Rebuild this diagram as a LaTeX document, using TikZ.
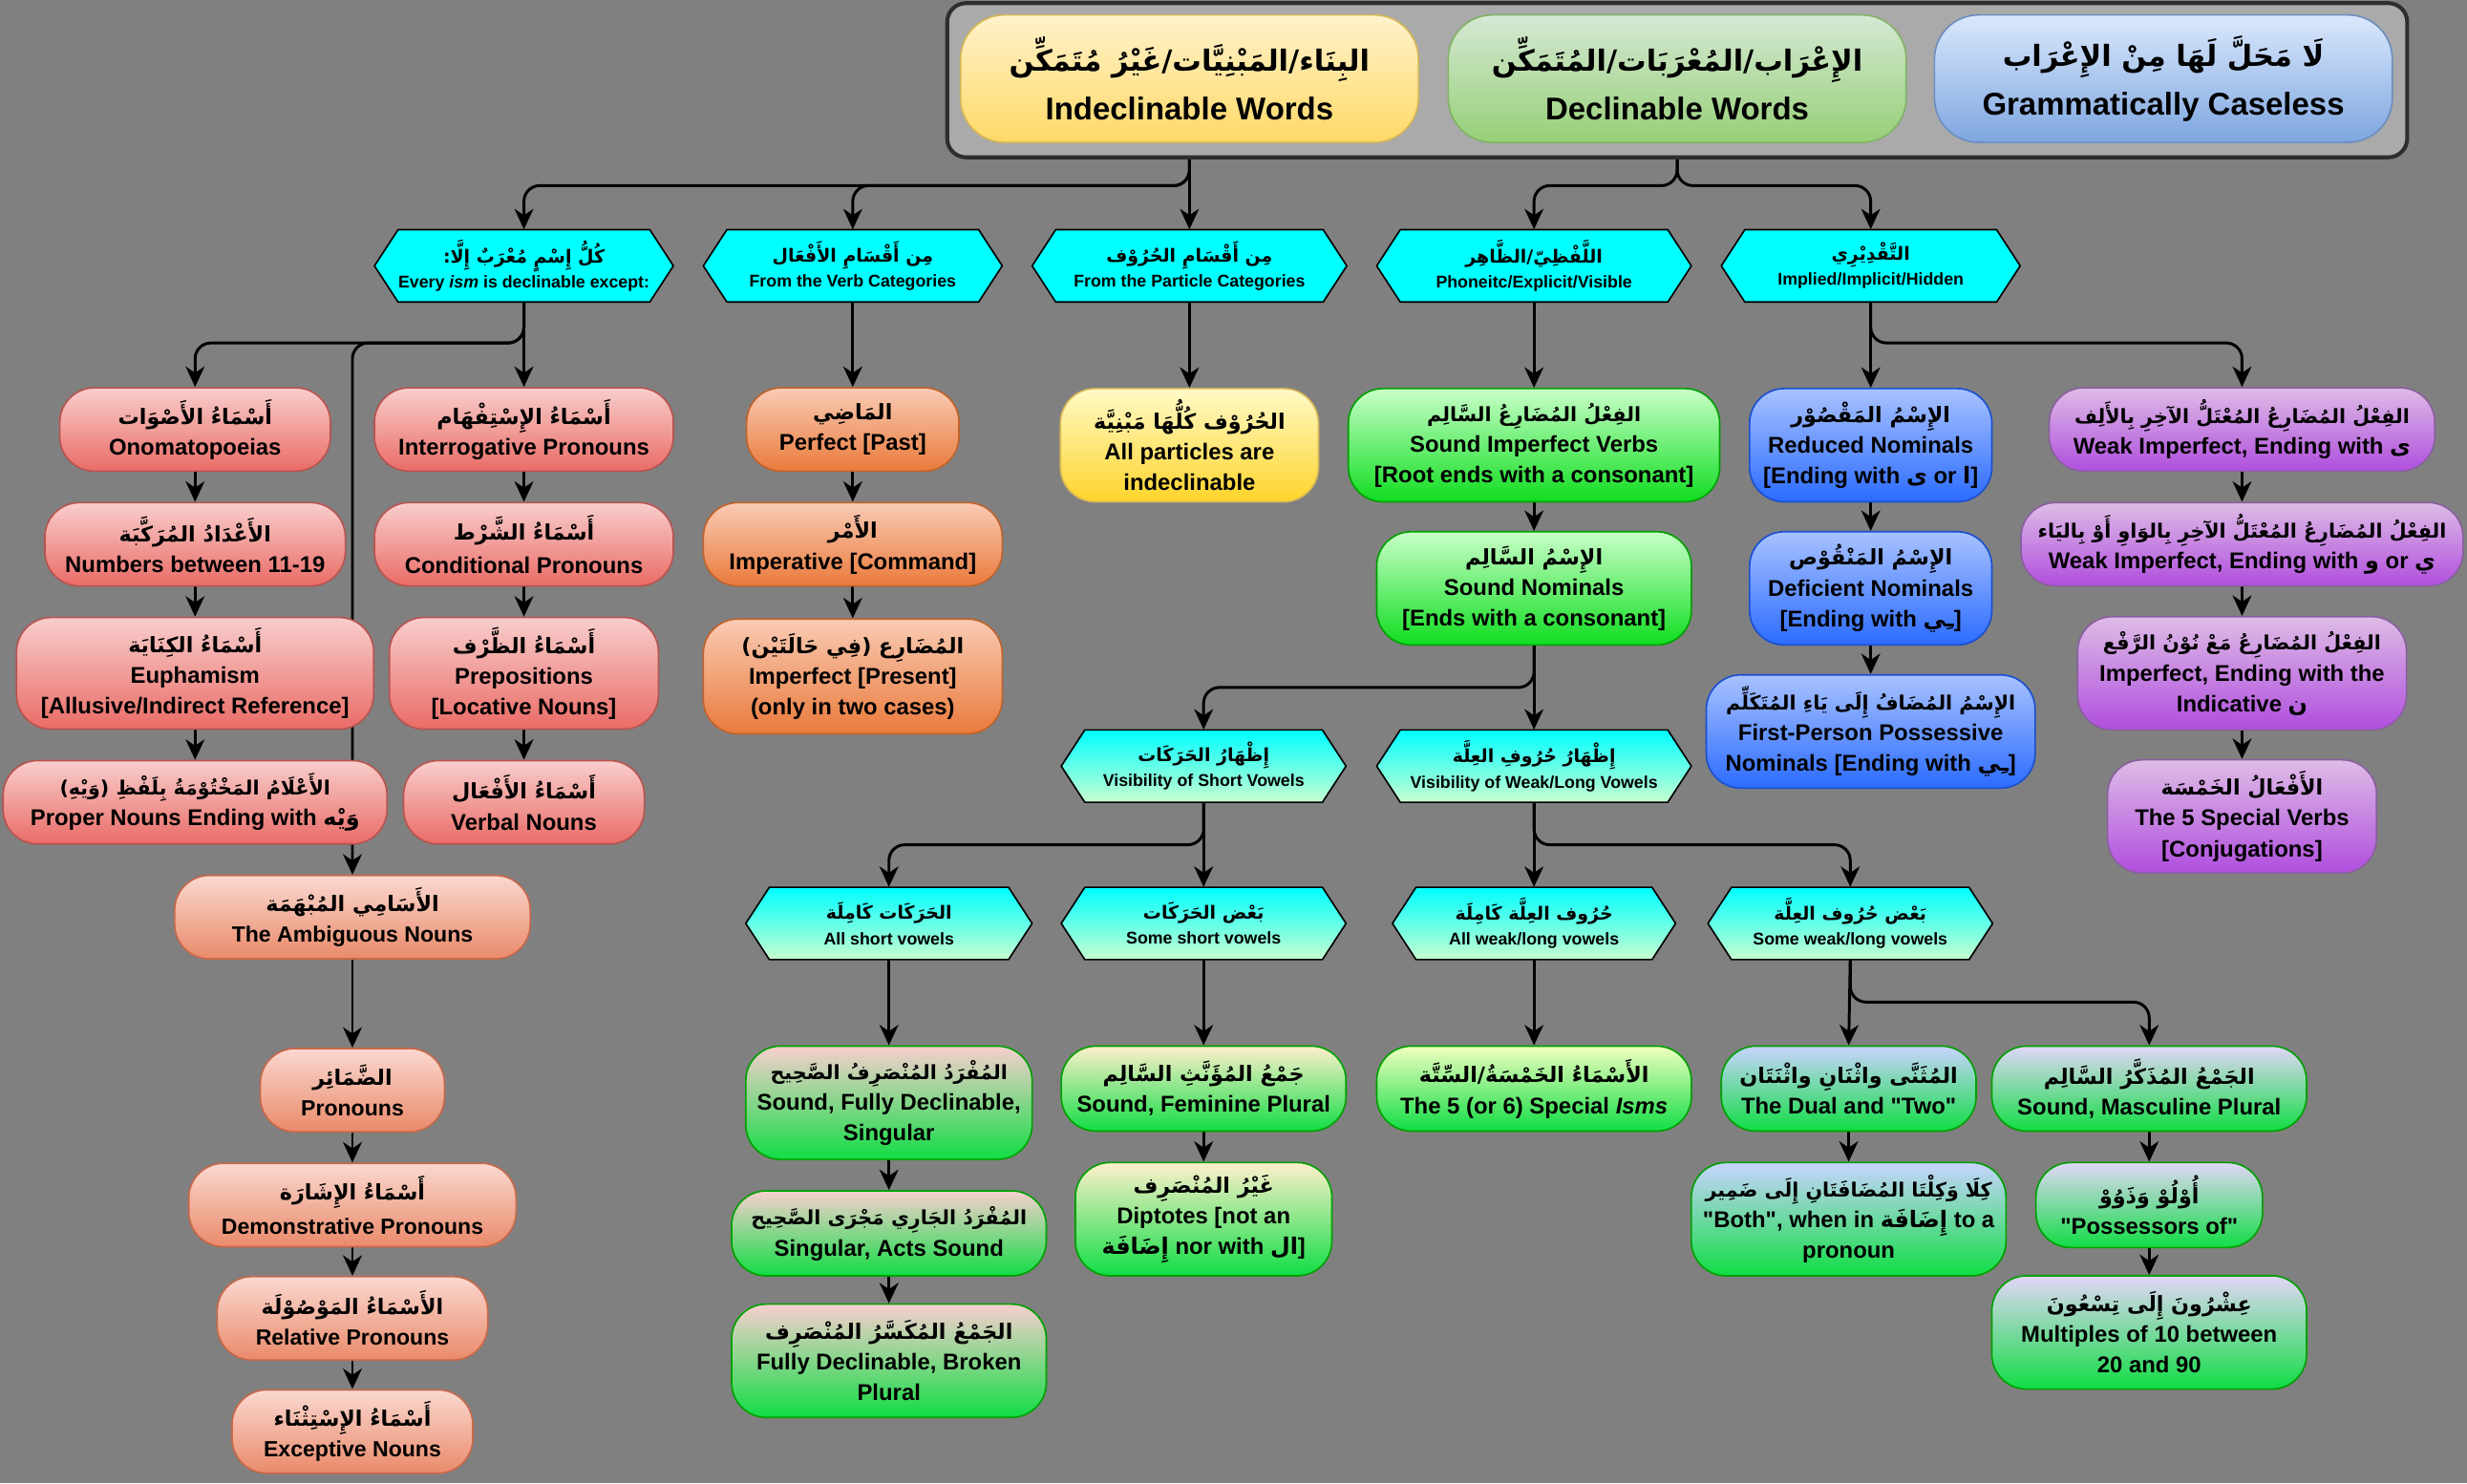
\documentclass[tikz,border=0pt]{standalone}
\usepackage{fontspec}
\setmainfont{Liberation Sans}
\newfontfamily\ar[Script=Arabic]{DejaVu Sans}
\TeXXeTstate=1
\usetikzlibrary{arrows.meta}
\pgfdeclarelayer{bg}
\pgfdeclarelayer{lines}
\pgfsetlayers{bg,lines,main}

\definecolor{bgc}{HTML}{808080}
\definecolor{hdr}{HTML}{AAAAAA}
\definecolor{hdrd}{HTML}{2E2E2E}
\definecolor{y1}{HTML}{FFF2CC}\definecolor{y2}{HTML}{FFD966}\definecolor{yd}{HTML}{D6B656}
\definecolor{gh1}{HTML}{D5E8D4}\definecolor{gh2}{HTML}{97D077}\definecolor{ghd}{HTML}{82B366}
\definecolor{bh1}{HTML}{DAE8FC}\definecolor{bh2}{HTML}{7EA6E0}\definecolor{bhd}{HTML}{6C8EBF}
\definecolor{pk1}{HTML}{F8CECC}\definecolor{pk2}{HTML}{EA6B66}\definecolor{pkd}{HTML}{B85450}
\definecolor{sa1}{HTML}{FAD8D0}\definecolor{sa2}{HTML}{EA8A6A}\definecolor{sad}{HTML}{C8684A}
\definecolor{or1}{HTML}{F9CBB4}\definecolor{or2}{HTML}{EA7A3C}\definecolor{ord}{HTML}{C0622A}
\definecolor{yp1}{HTML}{FFFAC8}\definecolor{yp2}{HTML}{FFD42A}
\definecolor{gn1}{HTML}{C8FFC8}\definecolor{gn2}{HTML}{10DD20}\definecolor{gnd}{HTML}{00A000}
\definecolor{bl1}{HTML}{A8C2FF}\definecolor{bl2}{HTML}{2B6BFF}\definecolor{bld}{HTML}{1A50D0}
\definecolor{pu1}{HTML}{DEBCE6}\definecolor{pu2}{HTML}{B04EDE}\definecolor{pud}{HTML}{8A5FA0}
\definecolor{hx1}{HTML}{00FFFF}\definecolor{hx2}{HTML}{C8FFD0}
\definecolor{gb}{HTML}{10DD44}
\definecolor{tpk}{HTML}{F8CFCF}\definecolor{tbe}{HTML}{FFF0CC}\definecolor{tyg}{HTML}{F0FFC0}
\definecolor{tbl}{HTML}{C8D4FF}\definecolor{tlv}{HTML}{E2D6F8}

\newcommand\arsize{13.5}
\newcommand\AR[1]{{\ar\bfseries\fontsize{\arsize}{\arsize}\selectfont\beginR #1\endR}}
\newcommand\ARi[1]{{\ar\bfseries\beginR #1\endR}}
\newcommand\qq{\textquotedbl}

\newcommand\hexa[7]{%
 \shadedraw[line width=1pt, draw=black, top color=#5, bottom color=#6]
   ({#2-#4/2},{#3}) -- ({#2-#4/2+15},{#3-23}) -- ({#2+#4/2-15},{#3-23}) --
   ({#2+#4/2},{#3}) -- ({#2+#4/2-15},{#3+23}) -- ({#2-#4/2+15},{#3+23}) -- cycle;
 \node[hexn, minimum width=#4pt, minimum height=46pt] (#1) at (#2,#3) {#7};}

\tikzset{
  bx/.style={draw, line width=1pt, rounded corners=22pt, align=center, inner sep=0pt,
    font={\fontsize{14.5}{19.5}\selectfont\bfseries}},
  sm/.style={execute at begin node={\def\arsize{12.5}}},
  hexn/.style={inner sep=0pt, align=center,
    font={\fontsize{10.8}{16}\selectfont\bfseries\def\arsize{11.5}}},
  hd/.style={bx, rounded corners=28pt, minimum width=291pt, minimum height=81pt,
    font={\fontsize{20}{31}\selectfont\bfseries\def\arsize{18.5}}},
  pk/.style={bx, top color=pk1, bottom color=pk2, draw=pkd},
  sa/.style={bx, top color=sa1, bottom color=sa2, draw=sad,
    font={\fontsize{14}{19.5}\selectfont\bfseries}},
  ob/.style={bx, top color=or1, bottom color=or2, draw=ord},
  yb/.style={bx, top color=yp1, bottom color=yp2, draw=yd},
  gn/.style={bx, top color=gn1, bottom color=gn2, draw=gnd},
  bl/.style={bx, top color=bl1, bottom color=bl2, draw=bld},
  pu/.style={bx, top color=pu1, bottom color=pu2, draw=pud},
  gg/.style={bx, top color=#1, bottom color=gb, draw=gnd},
  conn/.style={line width=1.8pt, rounded corners=10pt,
    -{Stealth[length=13pt,width=12pt,inset=4pt]}},
}

\begin{document}
\begin{tikzpicture}[x=1pt, y=-1pt, line join=round]
\useasboundingbox (0,0) rectangle (1568,943);
\begin{pgfonlayer}{bg}
\fill[bgc] (0,0) rectangle (1568,943);
\end{pgfonlayer}

% header
\node[draw=hdrd, fill=hdr, line width=2.5pt, rounded corners=12pt, minimum width=928pt, minimum height=98pt] (hdrbox) at (1066,51) {};
\node[hd, top color=y1, bottom color=y2, draw=yd] (yel) at (756,50) {\AR{البِنَاء/المَبْنِيَّات/غَيْرُ مُتَمَكِّن}\\Indeclinable Words};
\node[hd, top color=gh1, bottom color=gh2, draw=ghd] (grn) at (1066,50) {\AR{الإِعْرَاب/المُعْرَبَات/المُتَمَكِّن}\\Declinable Words};
\node[hd, top color=bh1, bottom color=bh2, draw=bhd] (blu) at (1375,50) {\AR{لَا مَحَلَّ لَهَا مِنْ الإِعْرَاب}\\Grammatically Caseless};

% hexagons row 1
\hexa{h1}{333}{169}{190}{hx1}{hx1}{\AR{كُلُّ إِسْمٍ مُعْرَبٌ إِلَّا:}\\Every \textit{ism} is declinable except:}
\hexa{h2}{542}{169}{190}{hx1}{hx1}{\AR{مِن أَقْسَامِ الأَفْعَال}\\From the Verb Categories}
\hexa{h3}{756}{169}{200}{hx1}{hx1}{\AR{مِن أَقْسَامِ الحُرُوْف}\\From the Particle Categories}
\hexa{h4}{975}{169}{200}{hx1}{hx1}{\AR{اللَّفْظِيّ/الظَّاهِر}\\Phoneitc/Explicit/Visible}
\hexa{h5}{1189}{169}{190}{hx1}{hx1}{\AR{التَّقْدِيْرِي}\\Implied/Implicit/Hidden}

% pink columns
\node[pk, minimum width=172pt, minimum height=53pt] (ono) at (124,273) {\AR{أَسْمَاءُ الأَصْوَات}\\Onomatopoeias};
\node[pk, minimum width=191pt, minimum height=53pt] (num) at (124,346) {\AR{الأَعْدَادُ المُرَكَّبَة}\\Numbers between 11-19};
\node[pk, minimum width=227pt, minimum height=71pt] (euph) at (124,428) {\AR{أَسْمَاءُ الكِنَايَة}\\Euphamism\\{}[Allusive/Indirect Reference]};
\node[pk, sm, minimum width=244pt, minimum height=53pt] (prop) at (124,510) {\AR{الأَعْلَامُ المَخْتُوْمَةُ بِلَفْظِ (وَيْهِ)}\\Proper Nouns Ending with \ARi{وَيْه}};
\node[pk, minimum width=190pt, minimum height=53pt] (int) at (333,273) {\AR{أَسْمَاءُ الإِسْتِفْهَام}\\Interrogative Pronouns};
\node[pk, minimum width=190pt, minimum height=53pt] (cond) at (333,346) {\AR{أَسْمَاءُ الشَّرْط}\\[2pt]Conditional Pronouns};
\node[pk, minimum width=171pt, minimum height=71pt] (prep) at (333,428) {\AR{أَسْمَاءُ الظَّرْف}\\Prepositions\\{}[Locative Nouns]};
\node[pk, minimum width=153pt, minimum height=53pt] (verb) at (333,510) {\AR{أَسْمَاءُ الأَفْعَال}\\Verbal Nouns};

% salmon column
\node[sa, minimum width=226pt, minimum height=53pt] (amb) at (224,583) {\AR{الأَسَامِي المُبْهَمَة}\\The Ambiguous Nouns};
\node[sa, minimum width=117pt, minimum height=53pt] (pron) at (224,693) {\AR{الضَّمَائِر}\\Pronouns};
\node[sa, minimum width=208pt, minimum height=53pt] (dem) at (224,766) {\AR{أَسْمَاءُ الإِشَارَة}\\[2pt]Demonstrative Pronouns};
\node[sa, minimum width=172pt, minimum height=53pt] (rel) at (224,838) {\AR{الأَسْمَاءُ المَوْصُوْلَة}\\Relative Pronouns};
\node[sa, minimum width=153pt, minimum height=53pt] (exc) at (224,910) {\AR{أَسْمَاءُ الإِسْتِثْنَاء}\\Exceptive Nouns};

% orange
\node[ob, minimum width=135pt, minimum height=53pt] (perf) at (542,273) {\AR{المَاضِي}\\Perfect [Past]};
\node[ob, minimum width=190pt, minimum height=53pt] (imp) at (542,346) {\AR{الأَمْر}\\Imperative [Command]};
\node[ob, minimum width=190pt, minimum height=73pt] (impf) at (542,430) {\AR{المُضَارِع (فِي حَالَتَيْن)}\\Imperfect [Present]\\(only in two cases)};

% yellow particles
\node[yb, minimum width=164pt, minimum height=72pt] (part) at (756,283) {\AR{الحُرُوْف كُلُّهَا مَبْنِيَّة}\\All particles are\\indeclinable};

% green
\node[gn, sm, minimum width=236pt, minimum height=72pt] (siv) at (975,283) {\AR{الفِعْلُ المُضَارِعُ السَّالِم}\\Sound Imperfect Verbs\\{}[Root ends with a consonant]};
\node[gn, minimum width=200pt, minimum height=72pt] (sn) at (975,374) {\AR{الإِسْمُ السَّالِم}\\Sound Nominals\\{}[Ends with a consonant]};

% blue
\node[bl, minimum width=154pt, minimum height=72pt] (red) at (1189,283) {\AR{الإِسْمُ المَقْصُوْر}\\Reduced Nominals\\{}[Ending with \ARi{ى} or \ARi{ا}]};
\node[bl, minimum width=154pt, minimum height=72pt] (def) at (1189,374) {\AR{الإِسْمُ المَنْقُوْص}\\Deficient Nominals\\{}[Ending with \ARi{ـِي}]};
\node[bl, sm, minimum width=209pt, minimum height=72pt] (fp) at (1189,465) {\AR{الإِسْمُ المُضَافُ إِلَى يَاءِ المُتَكَلِّم}\\First-Person Possessive\\Nominals [Ending with \ARi{ـِي}]};

% purple
\node[pu, sm, minimum width=245pt, minimum height=53pt] (pa) at (1425,273) {\AR{الفِعْلُ المُضَارِعُ المُعْتَلُّ الآخِرِ بِالأَلِف}\\Weak Imperfect, Ending with \ARi{ى}};
\node[pu, sm, minimum width=281pt, minimum height=53pt] (pb) at (1425,346) {\AR{الفِعْلُ المُضَارِعُ المُعْتَلُّ الآخِرِ بِالوَاوِ أَوْ بِاليَاء}\\Weak Imperfect, Ending with \ARi{و} or \ARi{ي}};
\node[pu, sm, minimum width=209pt, minimum height=72pt] (pc) at (1425,428) {\AR{الفِعْلُ المُضَارِعُ مَعْ نُوْنُ الرَّفْع}\\Imperfect, Ending with the\\Indicative \ARi{ن}};
\node[pu, minimum width=171pt, minimum height=72pt] (pd) at (1425,519) {\AR{الأَفْعَالُ الخَمْسَة}\\The 5 Special Verbs\\{}[Conjugations]};

% hexagons rows 2-3
\hexa{hv1}{765}{487}{181}{hx1}{hx2}{\AR{إِظْهَارُ الحَرَكَات}\\Visibility of Short Vowels}
\hexa{hv2}{975}{487}{200}{hx1}{hx2}{\AR{إِظْهَارُ حُرُوفِ العِلَّة}\\Visibility of Weak/Long Vowels}
\hexa{hs1}{565}{587}{182}{hx1}{hx2}{\AR{الحَرَكَات كَامِلَة}\\All short vowels}
\hexa{hs2}{765}{587}{181}{hx1}{hx2}{\AR{بَعْض الحَرَكَات}\\Some short vowels}
\hexa{hs3}{975}{587}{180}{hx1}{hx2}{\AR{حُرُوف العِلَّة كَامِلَة}\\All weak/long vowels}
\hexa{hs4}{1176}{587}{181}{hx1}{hx2}{\AR{بَعْض حُرُوف العِلَّة}\\Some weak/long vowels}

% bottom green
\node[gg=tpk, sm, minimum width=182pt, minimum height=72pt] (g1) at (565,701) {\AR{المُفْرَدُ المُنْصَرِفُ الصَّحِيح}\\Sound, Fully Declinable,\\Singular};
\node[gg=tpk, sm, minimum width=200pt, minimum height=54pt] (g2) at (565,784) {\AR{المُفْرَدُ الجَارِي مَجْرَى الصَّحِيح}\\Singular, Acts Sound};
\node[gg=tpk, minimum width=200pt, minimum height=72pt] (g3) at (565,865) {\AR{الجَمْعُ المُكَسَّرُ المُنْصَرِف}\\Fully Declinable, Broken\\Plural};
\node[gg=tbe, minimum width=181pt, minimum height=54pt] (g4) at (765,692) {\AR{جَمْعُ المُؤَنَّثِ السَّالِم}\\Sound, Feminine Plural};
\node[gg=tbe, minimum width=163pt, minimum height=72pt] (g5) at (765,775) {\AR{غَيْرُ المُنْصَرِف}\\Diptotes [not an\\\ARi{إِضَافَة} nor with \ARi{ال}]};
\node[gg=tyg, minimum width=200pt, minimum height=54pt] (g6) at (975,692) {\AR{الأَسْمَاءُ الخَمْسَةُ/السِّتَّة}\\The 5 (or 6) Special \textit{Isms}};
\node[gg=tbl, minimum width=162pt, minimum height=54pt] (g7) at (1175,692) {\AR{المُثَنَّى واثْنَانِ واثْنَتَان}\\The Dual and \qq Two\qq};
\node[gg=tbl, sm, minimum width=200pt, minimum height=72pt] (g8) at (1175,775) {\AR{كِلَا وَكِلْتَا المُضَافَتَانِ إِلَى ضَمِير}\\\qq Both\qq, when in \ARi{إِضَافَة} to a\\pronoun};
\node[gg=tlv, minimum width=200pt, minimum height=54pt] (g9) at (1366,692) {\AR{الجَمْعُ المُذَكَّرُ السَّالِم}\\Sound, Masculine Plural};
\node[gg=tlv, minimum width=144pt, minimum height=54pt] (g10) at (1366,766) {\AR{أُوْلُوْ وَذَوُوْ}\\\qq Possessors of\qq};
\node[gg=tlv, minimum width=200pt, minimum height=72pt] (g11) at (1366,847) {\AR{عِشْرُونَ إِلَى تِسْعُونَ}\\Multiples of 10 between\\20 and 90};

% bend points
\coordinate (c1) at (756,118);
\coordinate (c2) at (1066,118);
\coordinate (b1) at (333,218);
\coordinate (b5) at (1189,218);
\coordinate (bs) at (975,437);
\coordinate (bv1) at (765,537);
\coordinate (bv2) at (975,537);
\coordinate (bw) at (1176,637);

\begin{pgfonlayer}{lines}
\draw[conn] (yel.south) -- (c1) -| (h1.north);
\draw[conn] (yel.south) -- (c1) -| (h2.north);
\draw[conn] (yel.south) -- (h3.north);
\draw[conn] (grn.south) -- (c2) -| (h4.north);
\draw[conn] (grn.south) -- (c2) -| (h5.north);

\draw[conn] (h1.south) -- (b1) -| (ono.north);
\draw[conn] (h1.south) -- (b1) -| (amb.north);
\draw[conn] (h1.south) -- (int.north);
\draw[conn] (ono) -- (num);
\draw[conn] (num) -- (euph);
\draw[conn] (euph) -- (prop);
\draw[conn] (int) -- (cond);
\draw[conn] (cond) -- (prep);
\draw[conn] (prep) -- (verb);
\draw[conn] (amb) -- (pron);
\draw[conn] (pron) -- (dem);
\draw[conn] (dem) -- (rel);
\draw[conn] (rel) -- (exc);

\draw[conn] (h2.south) -- (perf.north);
\draw[conn] (perf) -- (imp);
\draw[conn] (imp) -- (impf);
\draw[conn] (h3.south) -- (part.north);

\draw[conn] (h4.south) -- (siv.north);
\draw[conn] (siv) -- (sn);
\draw[conn] (sn.south) -- (bs) -| (hv1.north);
\draw[conn] (sn.south) -- (hv2.north);

\draw[conn] (h5.south) -- (red.north);
\draw[conn] (h5.south) -- (b5) -| (pa.north);
\draw[conn] (red) -- (def);
\draw[conn] (def) -- (fp);
\draw[conn] (pa) -- (pb);
\draw[conn] (pb) -- (pc);
\draw[conn] (pc) -- (pd);

\draw[conn] (hv1.south) -- (bv1) -| (hs1.north);
\draw[conn] (hv1.south) -- (hs2.north);
\draw[conn] (hv2.south) -- (hs3.north);
\draw[conn] (hv2.south) -- (bv2) -| (hs4.north);

\draw[conn] (hs1.south) -- (g1.north);
\draw[conn] (g1) -- (g2);
\draw[conn] (g2) -- (g3);
\draw[conn] (hs2.south) -- (g4.north);
\draw[conn] (g4) -- (g5);
\draw[conn] (hs3.south) -- (g6.north);
\draw[conn] (hs4.south) -- (g7.north);
\draw[conn] (g7) -- (g8);
\draw[conn] (hs4.south) -- (bw) -| (g9.north);
\draw[conn] (g9) -- (g10);
\draw[conn] (g10) -- (g11);
\end{pgfonlayer}
\end{tikzpicture}
\end{document}
